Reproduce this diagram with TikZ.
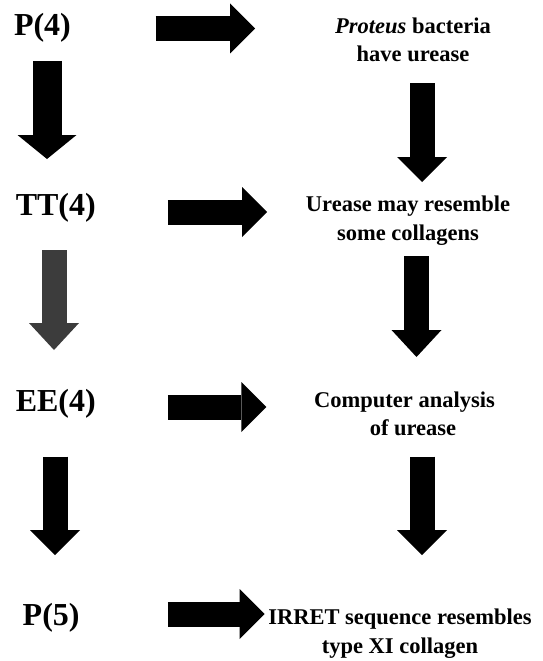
\documentclass[tikz,border=0pt]{standalone}
\usepackage{fontspec}
\setmainfont{Liberation Serif}
\definecolor{ink}{HTML}{000000}
\definecolor{slate}{HTML}{3C3C3C}
\usetikzlibrary{arrows.meta, positioning}
\tikzset{
  stage/.style={font=\fontsize{32}{36}\selectfont\bfseries, anchor=base west, inner sep=0pt},
  fact/.style={font=\fontsize{22.5}{28.5}\selectfont\bfseries, align=center, anchor=base, inner sep=0pt},
  fat/.style={line width=25pt, draw=ink, -{Triangle[length=25pt,width=50pt,line width=0pt]}},
  longtip/.style={-{Triangle[length=27pt,width=50pt,line width=0pt]}},
  widefat/.style={line width=29pt, draw=ink, -{Triangle[length=24pt,width=59pt,line width=0pt]}},
}
\begin{document}
\begin{tikzpicture}[x=1pt,y=-1pt]
\useasboundingbox (0,0) rectangle (543,661);
% left column
\node[stage] (p4) at (13.8,35.5) {P(4)};
\node[stage] (tt4) at (15.6,215) {TT(4)};
\node[stage] (ee4) at (15.6,411.7) {EE(4)};
\node[stage] (p5) at (22.5,625) {P(5)};
% right column (base = last line)
\node[fact] (proteus) at (413,61.7) {{\itshape Proteus} bacteria\\have urease};
\node[fact] (resemble) at (408,240) {Urease may resemble\\some collagens};
\node[fact] (analysis) at (404.5,435.5) {Computer analysis\\\hspace*{17pt}of urease};
\node[fact] (irret) at (400,653) {IRRET sequence resembles\\type XI collagen};
% arrow ends
\coordinate (h1a) at (155.7,28.5); \coordinate (h1b) at (255,28.5);
\coordinate (h2a) at (167.8,212);  \coordinate (h2b) at (267,212);
\coordinate (h3a) at (167.8,407);  \coordinate (h3b) at (266.4,407);
\coordinate (h4a) at (167.8,614);  \coordinate (h4b) at (264.7,614);
\coordinate (l1a) at (47,61);      \coordinate (l1b) at (47,159);
\coordinate (l2a) at (54,250);     \coordinate (l2b) at (54,350);
\coordinate (l3a) at (55,456.7);   \coordinate (l3b) at (55,555);
\coordinate (r1a) at (422,83);     \coordinate (r1b) at (422,182);
\coordinate (r2a) at (416.5,256);  \coordinate (r2b) at (416.5,357);
\coordinate (r3a) at (422,456.7);  \coordinate (r3b) at (422,555);
\draw[fat] (h1a)--(h1b);\draw[fat] (h2a)--(h2b);\draw[fat] (h3a)--(h3b);\draw[fat] (h4a)--(h4b);
\draw[widefat] (l1a)--(l1b);\draw[fat,longtip,draw=slate] (l2a)--(l2b);\draw[fat] (l3a)--(l3b);
\draw[fat] (r1a)--(r1b);\draw[fat,longtip] (r2a)--(r2b);\draw[fat] (r3a)--(r3b);
\end{tikzpicture}
\end{document}
